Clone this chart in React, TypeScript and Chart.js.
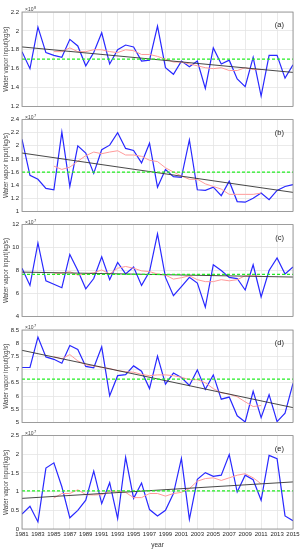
import React, { useEffect, useRef } from "react";
import { Chart, registerables } from "chart.js";

Chart.register(...registerables);

const years = [1981,1982,1983,1984,1985,1986,1987,1988,1989,1990,1991,1992,1993,1994,1995,1996,1997,1998,1999,2000,2001,2002,2003,2004,2005,2006,2007,2008,2009,2010,2011,2012,2013,2014,2015];
const maYears = [1985,1986,1987,1988,1989,1990,1991,1992,1993,1994,1995,1996,1997,1998,1999,2000,2001,2002,2003,2004,2005,2006,2007,2008,2009,2010,2011];
const xTicks = [1981,1983,1985,1987,1989,1991,1993,1995,1997,1999,2001,2003,2005,2007,2009,2011,2013,2015];
const trendYears = [1981, 2015];

// Panel (a) ×10^8
const seriesA = [1.78,1.60,2.04,1.77,1.74,1.72,1.91,1.84,1.63,1.77,1.98,1.65,1.80,1.85,1.83,1.68,1.69,2.05,1.61,1.54,1.68,1.62,1.68,1.39,1.82,1.65,1.69,1.49,1.41,1.72,1.31,1.74,1.74,1.50,1.64];
const maA = [1.78,1.78,1.82,1.78,1.78,1.80,1.80,1.78,1.77,1.80,1.79,1.75,1.75,1.73,1.70,1.67,1.67,1.65,1.63,1.61,1.60,1.61,1.58,1.58,1.61,1.59,1.59];
const trendA = [1.83, 1.56];
const meanA = [1.70, 1.70];

// Panel (b) ×10^7
const seriesB = [2.10,1.55,1.49,1.35,1.33,2.21,1.38,2.00,1.89,1.58,1.94,2.01,2.20,1.96,1.93,1.74,2.04,1.37,1.64,1.53,1.52,2.09,1.33,1.32,1.37,1.24,1.46,1.15,1.14,1.20,1.28,1.18,1.32,1.38,1.41];
const maB = [1.69,1.64,1.675,1.765,1.85,1.905,1.88,1.905,1.925,1.86,1.86,1.84,1.78,1.76,1.665,1.60,1.54,1.49,1.49,1.42,1.38,1.34,1.26,1.26,1.26,1.26,1.28];
const trendB = [1.89, 1.29];
const meanB = [1.60, 1.60];

// Panel (c) ×10^7
const seriesC = [8.2,6.7,10.4,7.1,6.8,6.5,9.4,8.0,6.4,7.3,9.2,7.2,8.7,7.7,8.3,6.7,7.9,11.2,7.4,5.8,6.6,7.4,6.9,4.8,8.5,8.0,7.4,7.3,6.3,8.5,5.7,8.0,9.1,7.7,8.3];
const maC = [7.7,7.77,7.9,7.6,7.7,7.8,8.05,7.7,8.2,8.35,8.2,7.97,7.9,7.7,7.6,7.25,7.37,7.54,7.2,7.03,7.03,7.2,7.1,7.2,7.54,7.54,7.49];
const trendC = [7.86, 7.43];
const meanC = [7.66, 7.66];

// Panel (d) ×10^7
const seriesD = [7.08,7.08,8.23,7.48,7.39,7.24,7.91,7.76,7.12,7.07,7.86,6.01,6.77,6.81,7.14,6.94,6.28,7.51,6.45,6.87,6.70,6.40,6.99,6.25,6.80,5.88,5.96,5.25,5.02,6.18,5.18,6.05,5.03,5.35,6.48];
const maD = [7.49,7.41,7.57,7.33,7.18,7.14,7.08,7.04,6.96,6.92,6.90,6.82,6.77,6.80,6.80,6.77,6.71,6.62,6.62,6.50,6.28,6.12,6.07,5.97,5.78,5.60,5.64];
const trendD = [7.73, 5.56];
const meanD = [6.64, 6.64];

// Panel (e) ×10^7
const seriesE = [0.40,0.61,0.19,1.63,1.77,1.13,0.30,0.50,0.77,1.55,0.68,1.24,0.28,1.92,0.82,1.23,0.52,0.35,0.50,0.95,1.89,0.26,1.33,1.51,1.41,1.44,1.99,0.99,1.44,1.32,0.77,1.97,1.88,0.35,0.22];
const maE = [0.83,0.95,0.95,1.05,0.92,0.91,0.92,1.01,1.01,0.98,0.84,0.84,0.95,0.95,0.88,0.95,0.98,1.08,1.28,1.35,1.37,1.30,1.37,1.44,1.48,1.37,1.21];
const trendE = [0.82, 1.26];
const meanE = [1.02, 1.02];

const panelLabels = ["(a)", "(b)", "(c)", "(d)", "(e)"];
const exponents = ["8", "7", "7", "7", "7"];
const yMins = [1.2, 1, 4, 5, 0];
const yMaxs = [2.2, 2.4, 12, 8.5, 2.5];
const ySteps = [0.2, 0.2, 2, 0.5, 0.5];

const PANELS = [
  { s: seriesA, m: maA, t: trendA, mu: meanA, canvasTop: 0, h: 113, padTop: 12, xh: 6 },
  { s: seriesB, m: maB, t: trendB, mu: meanB, canvasTop: 113, h: 105, padTop: 6, xh: 6 },
  { s: seriesC, m: maC, t: trendC, mu: meanC, canvasTop: 218, h: 105, padTop: 6, xh: 6 },
  { s: seriesD, m: maD, t: trendD, mu: meanD, canvasTop: 323, h: 106, padTop: 7, xh: 5 },
  { s: seriesE, m: maE, t: trendE, mu: meanE, canvasTop: 429, h: 121, padTop: 6, xh: 21 },
];

const FONT = "'Liberation Sans', Arial, sans-serif";

const pts = (xs: number[], ys: number[]) => xs.map((x, i) => ({ x, y: ys[i] }));

function Panel({ idx }: { idx: number }) {
  const ref = useRef<HTMLCanvasElement | null>(null);
  const p = PANELS[idx];
  const isLast = idx === PANELS.length - 1;
  useEffect(() => {
    if (!ref.current) return;
    const boxPlugin = {
      id: "boxAndLabels",
      afterDraw(chart: any) {
        const { ctx, chartArea: a } = chart;
        ctx.save();
        ctx.strokeStyle = "#8a8a8a";
        ctx.lineWidth = 0.8;
        ctx.strokeRect(a.left, a.top, a.right - a.left, a.bottom - a.top);
        ctx.fillStyle = "#222";
        ctx.font = `7.5px ${FONT}`;
        ctx.textAlign = "right";
        ctx.textBaseline = "middle";
        ctx.fillText(panelLabels[idx], a.right - 9, a.top + 13);
        ctx.fillStyle = "#444";
        ctx.textAlign = "left";
        ctx.textBaseline = "alphabetic";
        ctx.font = `5px ${FONT}`;
        ctx.fillText("×10", a.left + 3, a.top - 1);
        ctx.font = `4px ${FONT}`;
        ctx.fillText(exponents[idx], a.left + 12, a.top - 3);
        ctx.restore();
      },
    };
    const chart = new Chart(ref.current, {
      type: "line",
      data: {
        datasets: [
          { data: pts(trendYears, p.mu), borderColor: "#22ee22", borderWidth: 1.2, borderDash: [3, 2], pointRadius: 0 },
          { data: pts(trendYears, p.t), borderColor: "#333", borderWidth: 0.9, pointRadius: 0 },
          { data: pts(maYears, p.m), borderColor: "#ff9a9a", borderWidth: 1, pointRadius: 0 },
          { data: pts(years, p.s), borderColor: "#2828ff", borderWidth: 1.2, pointRadius: 0 },
        ],
      },
      options: {
        animation: false,
        responsive: false,
        maintainAspectRatio: false,
        layout: { padding: { top: p.padTop, left: 0, right: 9, bottom: 0 } },
        plugins: { legend: { display: false }, tooltip: { enabled: false } },
        elements: { line: { tension: 0 } },
        scales: {
          x: {
            type: "linear",
            min: 1981,
            max: 2015,
            afterBuildTicks: (s: any) => { s.ticks = xTicks.map((v) => ({ value: v })); },
            afterFit: (s: any) => { s.height = p.xh; },
            grid: { color: "#e4e4e4", lineWidth: 0.8, drawTicks: false },
            border: { display: false },
            ticks: {
              display: isLast,
              padding: 2,
              maxRotation: 0,
              autoSkip: false,
              color: "#262626",
              font: { family: FONT, size: 6 },
              callback: (v: any) => String(v),
            },
            title: {
              display: isLast,
              text: "year",
              color: "#333",
              font: { family: FONT, size: 6.5 },
              padding: { top: 0, bottom: 1 },
            },
          },
          y: {
            min: yMins[idx],
            max: yMaxs[idx],
            afterFit: (s: any) => { s.width = 22; },
            grid: { color: "#e4e4e4", lineWidth: 0.8, drawTicks: false },
            border: { display: false },
            ticks: {
              stepSize: ySteps[idx],
              padding: 3,
              color: "#262626",
              font: { family: FONT, size: 6 },
              callback: (v: any) => String(Math.round(Number(v) * 100) / 100),
            },
            title: {
              display: true,
              text: "Water vapor input(kg/s)",
              color: "#444",
              font: { family: FONT, size: 6.3 },
              padding: { top: 2, bottom: 0 },
            },
          },
        },
      },
      plugins: [boxPlugin],
    } as any);
    return () => chart.destroy();
  }, []);
  return (
    <canvas
      ref={ref}
      width={302}
      height={p.h}
      style={{ position: "absolute", left: 0, top: p.canvasTop, width: 302, height: p.h }}
    />
  );
}

export default function App() {
  return (
    <div style={{ position: "absolute", left: 0, top: 0, width: 302, height: 550, background: "#fff" }}>
      {PANELS.map((_, i) => (
        <Panel key={i} idx={i} />
      ))}
    </div>
  );
}
